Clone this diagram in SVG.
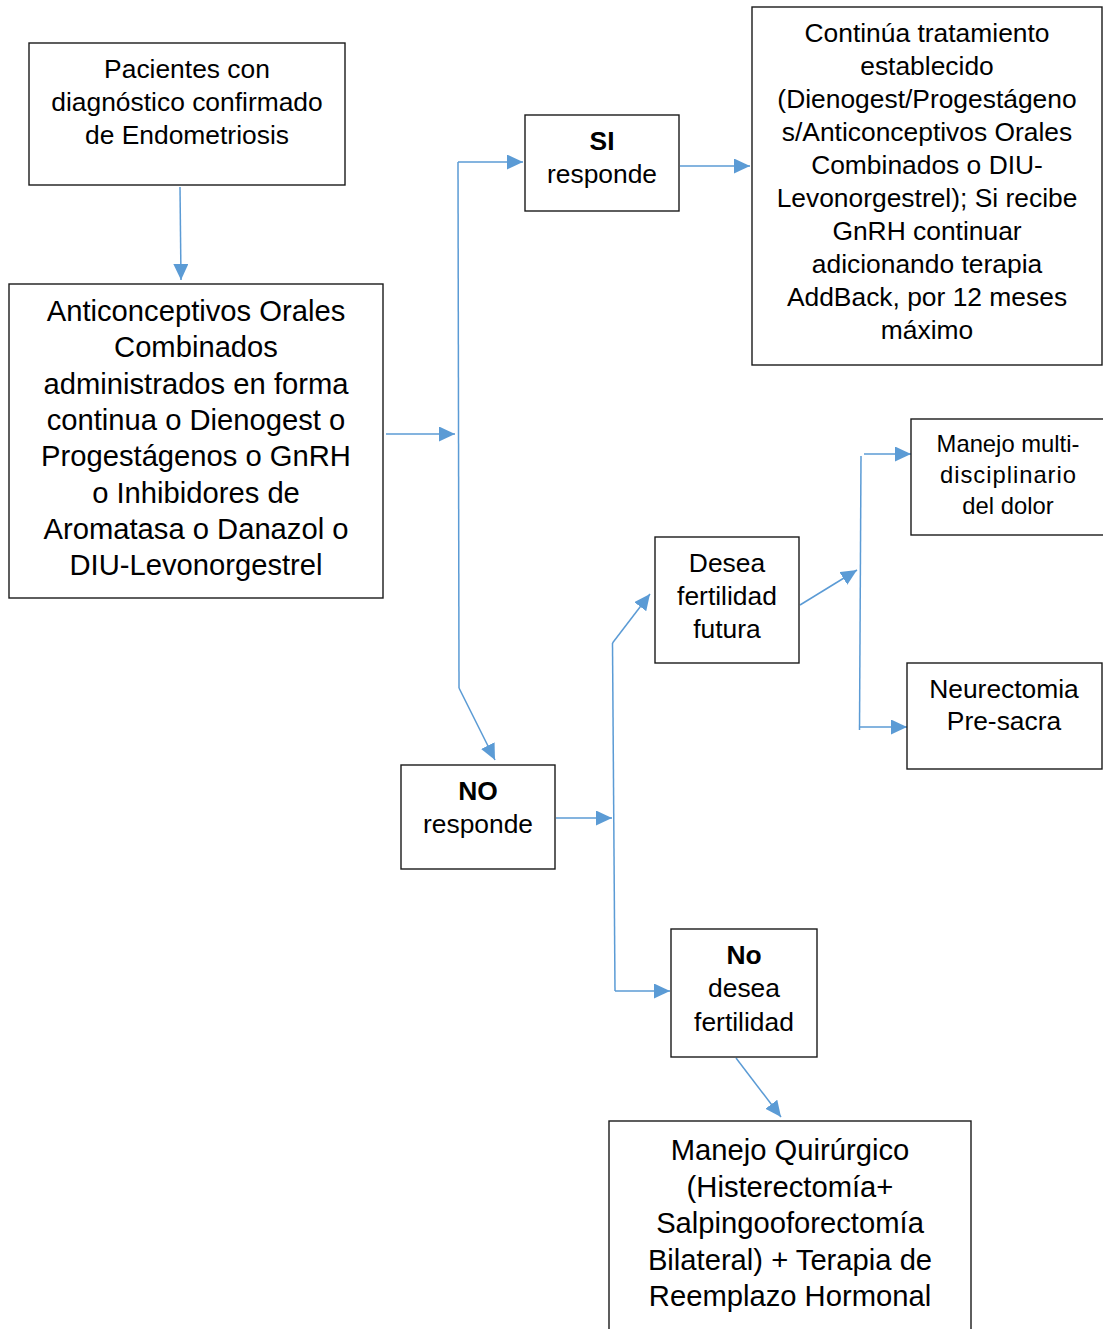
<svg xmlns="http://www.w3.org/2000/svg" width="1103" height="1329" viewBox="0 0 1103 1329">
<style>
.box{fill:#fff;stroke:#1a1a1a;stroke-width:1.4}
.t{font-family:"Liberation Sans",Arial,sans-serif;fill:#000;text-anchor:middle}
.f26{font-size:26.4px}
.f24{font-size:23.8px}
.f29{font-size:29.2px}
.b{font-weight:bold}
.c{fill:none;stroke:#5B9BD5;stroke-width:1.5}
</style>
<defs>
<marker id="ah" markerUnits="userSpaceOnUse" markerWidth="17" markerHeight="16" refX="16" refY="7.5" orient="auto">
<path d="M0,0 L16,7.5 L0,15 z" fill="#5B9BD5"/>
</marker>
</defs>
<rect width="1103" height="1329" fill="#fff"/>
<g id="connectors">
<path class="c" d="M180,187 L181,280" marker-end="url(#ah)"/>
<path class="c" d="M386,434 L455,434" marker-end="url(#ah)"/>
<path class="c" d="M459,688 L458,162"/>
<path class="c" d="M458,162 L523,162" marker-end="url(#ah)"/>
<path class="c" d="M459,688 L495,760" marker-end="url(#ah)"/>
<path class="c" d="M680,166 L750,166" marker-end="url(#ah)"/>
<path class="c" d="M556,818 L612,818" marker-end="url(#ah)"/>
<path class="c" d="M612.5,643 L615,991"/>
<path class="c" d="M612.5,643 L650,594" marker-end="url(#ah)"/>
<path class="c" d="M615,991 L670,991" marker-end="url(#ah)"/>
<path class="c" d="M800,605 L857,570" marker-end="url(#ah)"/>
<path class="c" d="M861,456 L859.5,730"/>
<path class="c" d="M864,454 L911,454" marker-end="url(#ah)"/>
<path class="c" d="M859.5,727 L907,727" marker-end="url(#ah)"/>
<path class="c" d="M736,1058 L781,1117" marker-end="url(#ah)"/>
</g>
<g id="n-pacientes">
<rect class="box" x="29" y="43" width="316" height="142"/>
<text class="t f26" x="187"><tspan x="187" y="78">Pacientes con</tspan><tspan x="187" y="111">diagnóstico confirmado</tspan><tspan x="187" y="144">de Endometriosis</tspan></text>
</g>
<g id="n-tratamiento">
<rect class="box" x="9" y="284" width="374" height="314"/>
<text class="t f29" x="196"><tspan x="196" y="321">Anticonceptivos Orales</tspan><tspan x="196" y="357.3">Combinados</tspan><tspan x="196" y="393.6">administrados en forma</tspan><tspan x="196" y="430">continua o Dienogest o</tspan><tspan x="196" y="466.3">Progestágenos o GnRH</tspan><tspan x="196" y="502.6">o Inhibidores de</tspan><tspan x="196" y="539">Aromatasa o Danazol o</tspan><tspan x="196" y="575.3">DIU-Levonorgestrel</tspan></text>
</g>
<g id="n-si">
<rect class="box" x="525" y="115" width="154" height="96"/>
<text class="t f26" x="602"><tspan class="b" x="602" y="150">SI</tspan><tspan x="602" y="183">responde</tspan></text>
</g>
<g id="n-continua">
<rect class="box" x="752" y="7" width="350" height="358"/>
<text class="t f26" x="927"><tspan x="927" y="42">Continúa tratamiento</tspan><tspan x="927" y="75">establecido</tspan><tspan x="927" y="108">(Dienogest/Progestágeno</tspan><tspan x="927" y="141">s/Anticonceptivos Orales</tspan><tspan x="927" y="174">Combinados o DIU-</tspan><tspan x="927" y="207">Levonorgestrel); Si recibe</tspan><tspan x="927" y="240">GnRH continuar</tspan><tspan x="927" y="273">adicionando terapia</tspan><tspan x="927" y="306">AddBack, por 12 meses</tspan><tspan x="927" y="339">máximo</tspan></text>
</g>
<g id="n-no">
<rect class="box" x="401" y="765" width="154" height="104"/>
<text class="t f26" x="478"><tspan class="b" x="478" y="800">NO</tspan><tspan x="478" y="833">responde</tspan></text>
</g>
<g id="n-desea">
<rect class="box" x="655" y="537" width="144" height="126"/>
<text class="t f26" x="727"><tspan x="727" y="572">Desea</tspan><tspan x="727" y="604.5">fertilidad</tspan><tspan x="727" y="637.5">futura</tspan></text>
</g>
<g id="n-manejo-dolor">
<rect class="box" x="911" y="419" width="195" height="116"/>
<text class="t f24" x="1008"><tspan x="1008" y="452">Manejo multi-</tspan></text>
<text class="t f24" x="1008" y="483" textLength="136" lengthAdjust="spacing">disciplinario</text>
<text class="t f24" x="1008" y="514">del dolor</text>
</g>
<g id="n-neurectomia">
<rect class="box" x="907" y="663" width="195" height="106"/>
<text class="t f26" x="1004"><tspan x="1004" y="697.5">Neurectomia</tspan><tspan x="1004" y="730">Pre-sacra</tspan></text>
</g>
<g id="n-no-desea">
<rect class="box" x="671" y="929" width="146" height="128"/>
<text class="t f26" x="744"><tspan class="b" x="744" y="964">No</tspan><tspan x="744" y="997.3">desea</tspan><tspan x="744" y="1030.7">fertilidad</tspan></text>
</g>
<g id="n-quirurgico">
<rect class="box" x="609" y="1121" width="362" height="220"/>
<text class="t f29" x="790"><tspan x="790" y="1160">Manejo Quirúrgico</tspan><tspan x="790" y="1197">(Histerectomía+</tspan><tspan x="790" y="1233.3">Salpingooforectomía</tspan><tspan x="790" y="1270">Bilateral) + Terapia de</tspan><tspan x="790" y="1305.5">Reemplazo Hormonal</tspan></text>
</g>
</svg>
